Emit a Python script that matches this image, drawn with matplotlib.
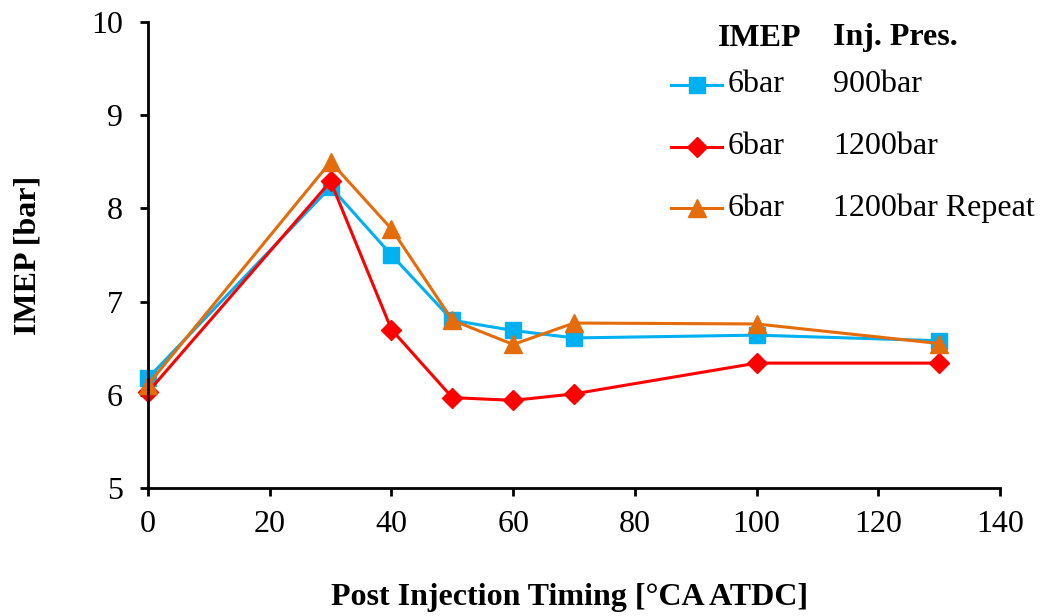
import matplotlib
matplotlib.use("Agg")
import matplotlib.pyplot as plt
from matplotlib.lines import Line2D

plt.rcParams['font.family'] = ['Liberation Serif', 'DejaVu Serif']

timing = [0, 30, 40, 50, 60, 70, 100, 130]
imep_900 = [6.18, 8.23, 7.50, 6.80, 6.69, 6.61, 6.64, 6.58]
imep_1200 = [6.03, 8.29, 6.70, 5.97, 5.94, 6.01, 6.34, 6.34]
imep_1200r = [6.11, 8.50, 7.78, 6.80, 6.54, 6.77, 6.76, 6.55]

series = [
    (imep_900, '#00B0F0', 's', 11, '6bar', '900bar'),
    (imep_1200, '#FF0000', 'D', 10, '6bar', '1200bar'),
    (imep_1200r, '#E46C0A', '^', 13, '6bar', '1200bar Repeat'),
]

FS = 23
W, H = 1044, 616
def fx(px): return px / W
def fy(py): return 1 - py / H

fig = plt.figure(figsize=(10.44, 6.16), dpi=100)
ax = fig.add_axes([0.1418, 0.2078, 0.8161, 0.7565])

for vals, c, m, ms, imep, pres in series:
    ax.plot(timing, vals, color=c, marker=m, markersize=ms, linewidth=2.2, clip_on=False)

ax.set_xlim(0, 140)
ax.set_ylim(5, 10)
ax.set_xticks(range(0, 141, 20))
ax.set_yticks(range(5, 11))
for s in ['top', 'right']:
    ax.spines[s].set_visible(False)
for s in ['left', 'bottom']:
    ax.spines[s].set_linewidth(2)
ax.tick_params(axis='both', labelsize=FS, width=2, length=6, direction='out')
ax.tick_params(axis='y', pad=12)
ax.tick_params(axis='x', pad=10)
fig.text(fx(28), fy(255), 'IMEP [bar]', fontsize=FS, fontweight='bold', rotation=90,
         ha='center', va='center')
fig.text(fx(570), fy(597), 'Post Injection Timing [°CA ATDC]', fontsize=FS,
         fontweight='bold', ha='center', va='center')

# manual legend
fig.text(fx(718), fy(38), 'IMEP', fontsize=FS, fontweight='bold', va='center', ha='left')
fig.text(fx(833), fy(38), 'Inj. Pres.', fontsize=FS, fontweight='bold', va='center', ha='left')
rows = [85, 147, 208]
for (vals, c, m, ms, imep, pres), ry in zip(series, rows):
    fig.add_artist(Line2D([fx(671), fx(722)], [fy(ry), fy(ry)], color=c, linewidth=2.2,
                          transform=fig.transFigure))
    fig.add_artist(Line2D([fx(697)], [fy(ry)], color=c, marker=m, markersize=ms,
                          linestyle='none', transform=fig.transFigure))
    fig.text(fx(728), fy(ry), imep, fontsize=FS, va='center', ha='left')
    fig.text(fx(833), fy(ry), pres, fontsize=FS, va='center', ha='left')

fig.savefig('out.png', dpi=100)
